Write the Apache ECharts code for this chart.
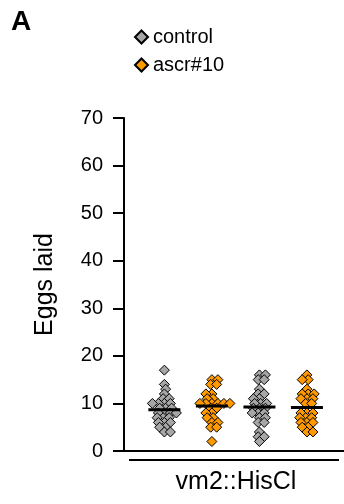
<!DOCTYPE html>
<html>
<head>
<meta charset="utf-8">
<script src="https://cdn.jsdelivr.net/npm/echarts@6/dist/echarts.min.js"></script>
<style>
  html, body { margin: 0; padding: 0; background: #fff; }
  #chart { width: 344px; height: 504px; }
</style>
</head>
<body>
<div id="chart"></div>
<script>
// Eggs laid per animal, two conditions, two repeated blocks
const seriesNames = ['control', 'ascr#10'];
const groupLabel = 'vm2::HisCl';
const panelLabel = 'A';
const yTicks = [0, 10, 20, 30, 40, 50, 60, 70];

const controlA = [17, 14, 13, 12, 11, 11, 10, 10, 10, 10, 9, 9, 9, 8, 8, 8, 8, 7, 7, 7, 6, 6, 6, 5, 5, 4, 4];
const ascrA    = [15, 15, 14, 14, 12, 12, 11, 11, 10, 10, 10, 10, 10, 10, 9, 9, 8, 8, 7, 7, 6, 6, 5, 5, 2];
const controlB = [16, 16, 15, 15, 13, 12, 12, 11, 11, 10, 10, 10, 9, 9, 9, 8, 8, 8, 7, 7, 6, 6, 4, 3, 3, 2];
const ascrB    = [16, 15, 15, 13, 12, 12, 12, 11, 11, 11, 10, 10, 8, 8, 8, 7, 7, 7, 6, 6, 6, 5, 5, 4, 4];

const groups = [
  { pos: 1, name: 'control', values: controlA },
  { pos: 2, name: 'ascr#10', values: ascrA },
  { pos: 3, name: 'control', values: controlB },
  { pos: 4, name: 'ascr#10', values: ascrB }
];

const colors = { 'control': '#a6a6a6', 'ascr#10': '#ff9900' };
const FONT = 'Liberation Sans';

const chart = echarts.init(document.getElementById('chart'), null, { renderer: 'canvas' });

const baseOption = {
  animation: false,
  backgroundColor: '#ffffff',
  textStyle: { fontFamily: FONT },
  grid: { left: 124, right: 0, top: 118, bottom: 53, containLabel: false },
  legend: {
    data: seriesNames,
    orient: 'vertical',
    left: 129,
    top: 22,
    icon: 'diamond',
    itemWidth: 13,
    itemHeight: 13,
    itemGap: 8,
    textStyle: { fontFamily: FONT, fontSize: 20, color: '#000' }
  },
  xAxis: {
    type: 'value',
    min: 0.15,
    max: 4.78,
    axisLine: { show: true, onZero: false, lineStyle: { color: '#000', width: 2 } },
    axisTick: { show: false },
    axisLabel: { show: false },
    splitLine: { show: false }
  },
  yAxis: {
    type: 'value',
    min: yTicks[0],
    max: yTicks[yTicks.length - 1],
    interval: 10,
    name: 'Eggs laid',
    nameLocation: 'middle',
    nameGap: 66,
    nameTextStyle: { fontFamily: FONT, fontSize: 25, color: '#000' },
    axisLine: { show: true, lineStyle: { color: '#000', width: 2 } },
    axisTick: { show: true, length: 11, lineStyle: { color: '#000', width: 2 } },
    axisLabel: { margin: 21, fontFamily: FONT, fontSize: 20, color: '#000' },
    splitLine: { show: false }
  },
  graphic: [
    {
      type: 'text', left: 11, top: 8,
      style: { text: panelLabel, font: 'bold 28px "Liberation Sans"', fill: '#000' }
    },
    {
      type: 'line',
      shape: { x1: 129, y1: 460, x2: 339, y2: 460 },
      style: { stroke: '#000', lineWidth: 2 }
    },
    {
      type: 'text', x: 236, y: 482,
      style: { text: groupLabel, font: '25px "Liberation Sans"', fill: '#000', align: 'center', verticalAlign: 'middle' }
    }
  ],
  series: []
};

chart.setOption(baseOption);

// Beeswarm placement of diamonds in pixel space, converted back to axis units
const D = 6;
function swarm(group) {
  const placed = [];
  const sorted = group.values.slice().sort((a, b) => b - a);
  const out = [];
  const cx = chart.convertToPixel({ gridIndex: 0 }, [group.pos, 0])[0];
  let flip = 1;
  sorted.forEach(v => {
    const py = chart.convertToPixel({ gridIndex: 0 }, [group.pos, v])[1];
    const near = placed.filter(q => Math.abs(q.py - py) < D);
    const cands = [0];
    near.forEach(q => {
      const w = D - Math.abs(q.py - py);
      cands.push(q.dx + w, q.dx - w);
    });
    const ok = cands.filter(c => near.every(q => Math.abs(c - q.dx) >= D - Math.abs(q.py - py) - 1e-6));
    ok.sort((a, b) => {
      const d = Math.abs(a) - Math.abs(b);
      if (Math.abs(d) > 1e-6) return d;
      return flip * (b - a);
    });
    const dx = ok[0];
    if (dx !== 0) flip = -flip;
    placed.push({ py, dx });
    const xVal = chart.convertFromPixel({ gridIndex: 0 }, [cx + dx, py])[0];
    out.push([xVal, v]);
  });
  return out;
}

const scatterData = { 'control': [], 'ascr#10': [] };
groups.forEach(g => { scatterData[g.name] = scatterData[g.name].concat(swarm(g)); });

const meanData = groups.map(g => [g.pos, g.values.reduce((s, v) => s + v, 0) / g.values.length]);

chart.setOption({
  series: seriesNames.map(name => ({
    name,
    type: 'scatter',
    symbol: 'diamond',
    symbolSize: 10,
    data: scatterData[name],
    itemStyle: { color: colors[name], borderColor: '#000', borderWidth: 1, opacity: 1 },
    emphasis: { disabled: true },
    z: 2
  })).concat([{
    name: 'mean',
    type: 'custom',
    data: meanData,
    z: 5,
    renderItem: (params, api) => {
      const c = api.coord([api.value(0), api.value(1)]);
      return {
        type: 'line',
        shape: { x1: c[0] - 16, y1: c[1], x2: c[0] + 16, y2: c[1] },
        style: { stroke: '#000', lineWidth: 3 }
      };
    }
  }])
});
</script>
</body>
</html>
